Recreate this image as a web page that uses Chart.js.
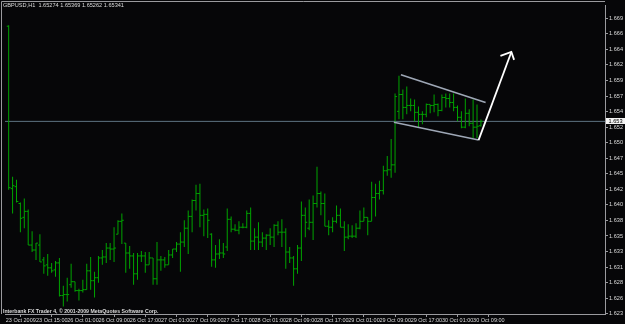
<!DOCTYPE html>
<html lang="en">
<head>
<meta charset="UTF-8" />
<title>GBPUSD,H1</title>
<script src="https://cdn.jsdelivr.net/npm/chart.js@4.4.0/dist/chart.umd.min.js"></script>
<style>
  html, body { margin: 0; padding: 0; background: #060608; }
  #wrap { width: 625px; height: 324px; }
</style>
</head>
<body>
<div id="wrap"><canvas id="myChart"></canvas></div>
<script>
// GBPUSD H1 bars, 23 Oct 2009 08:00 .. 30 Oct 2009 11:00
const symbol = 'GBPUSD';
const timeframe = 'H1';

const opens = [
  1.66804, 1.64308, 1.64338, 1.64079, 1.63866, 1.63958, 1.63440, 1.63364, 1.63440, 1.63212,
  1.63136, 1.63090, 1.63059, 1.63166, 1.62664, 1.62679, 1.62831, 1.62877, 1.62740, 1.62740,
  1.62755, 1.63044, 1.62892, 1.62938, 1.63242, 1.63257, 1.63394, 1.63379, 1.63607, 1.63805,
  1.63470, 1.63318, 1.63273, 1.62998, 1.63273, 1.63273, 1.63136, 1.63242, 1.62922, 1.63212,
  1.63212, 1.63136, 1.63288, 1.63379, 1.63455, 1.63486, 1.63699, 1.63881, 1.64125, 1.64232,
  1.63897, 1.63912, 1.63607, 1.63212, 1.63303, 1.63318, 1.63410, 1.63836, 1.63684, 1.63668,
  1.63714, 1.63714, 1.63927, 1.63501, 1.63562, 1.63486, 1.63547, 1.63592, 1.63562, 1.63744,
  1.63638, 1.63638, 1.63333, 1.63242, 1.63075, 1.63394, 1.63897, 1.63699, 1.63790, 1.64079,
  1.64232, 1.64079, 1.63729, 1.63714, 1.63805, 1.63897, 1.63714, 1.63562, 1.63577, 1.63577,
  1.63699, 1.63805, 1.63866, 1.63805, 1.64171, 1.64232, 1.64277, 1.64582, 1.64597, 1.64673,
  1.65495, 1.65754, 1.65556, 1.65586, 1.65586, 1.65480, 1.65449, 1.65449, 1.65602, 1.65586,
  1.65602, 1.65510, 1.65708, 1.65693, 1.65632, 1.65556, 1.65404, 1.65252, 1.65465, 1.65312,
  1.65252, 1.65274
];
const highs = [
  1.66820, 1.64490, 1.64445, 1.64095, 1.64155, 1.63988, 1.63653, 1.63470, 1.63607, 1.63257,
  1.63303, 1.63166, 1.63196, 1.63242, 1.62816, 1.62938, 1.63151, 1.62877, 1.62770, 1.62907,
  1.63151, 1.63257, 1.63029, 1.63273, 1.63364, 1.63470, 1.63470, 1.63714, 1.63821, 1.63927,
  1.63470, 1.63425, 1.63318, 1.63318, 1.63349, 1.63333, 1.63333, 1.63242, 1.63486, 1.63273,
  1.63257, 1.63364, 1.63379, 1.63486, 1.63638, 1.63821, 1.63973, 1.64140, 1.64369, 1.64384,
  1.63988, 1.64003, 1.63623, 1.63440, 1.63531, 1.63470, 1.64003, 1.63881, 1.63760, 1.63805,
  1.63775, 1.63973, 1.64018, 1.63699, 1.63790, 1.63638, 1.63607, 1.63699, 1.63760, 1.63805,
  1.63836, 1.63699, 1.63410, 1.63273, 1.63440, 1.64110, 1.64018, 1.64140, 1.64201, 1.64643,
  1.64262, 1.64232, 1.63821, 1.63866, 1.64049, 1.64003, 1.63805, 1.63760, 1.63744, 1.63775,
  1.63973, 1.64018, 1.63866, 1.64414, 1.64384, 1.64430, 1.64658, 1.64810, 1.65069, 1.65769,
  1.66043, 1.65830, 1.65876, 1.65693, 1.65678, 1.65571, 1.65495, 1.65617, 1.65602, 1.65754,
  1.65617, 1.65754, 1.65769, 1.65769, 1.65769, 1.65586, 1.65495, 1.65693, 1.65526, 1.65678,
  1.65602, 1.65369
];
const lows = [
  1.64292, 1.63927, 1.64095, 1.63638, 1.63699, 1.63440, 1.63333, 1.63212, 1.63181, 1.62998,
  1.62968, 1.63014, 1.62953, 1.62648, 1.62496, 1.62572, 1.62785, 1.62724, 1.62587, 1.62709,
  1.62755, 1.62755, 1.62633, 1.62862, 1.63136, 1.63166, 1.63212, 1.63181, 1.63607, 1.63455,
  1.63014, 1.63075, 1.62831, 1.62907, 1.63181, 1.63014, 1.63136, 1.62831, 1.62831, 1.63044,
  1.63090, 1.63136, 1.63242, 1.63333, 1.63029, 1.63410, 1.63303, 1.63638, 1.63973, 1.63714,
  1.63577, 1.63547, 1.63105, 1.63090, 1.63227, 1.63242, 1.63349, 1.63638, 1.63653, 1.63607,
  1.63699, 1.63699, 1.63364, 1.63364, 1.63364, 1.63410, 1.63364, 1.63440, 1.63410, 1.63592,
  1.63410, 1.63075, 1.63166, 1.62816, 1.62998, 1.63196, 1.63562, 1.63668, 1.63516, 1.64018,
  1.63897, 1.63729, 1.63592, 1.63638, 1.63775, 1.63714, 1.63349, 1.63531, 1.63547, 1.63547,
  1.63684, 1.63805, 1.63592, 1.63805, 1.63881, 1.64140, 1.64216, 1.64506, 1.64475, 1.64551,
  1.65373, 1.65373, 1.65449, 1.65495, 1.65343, 1.65252, 1.65297, 1.65404, 1.65465, 1.65480,
  1.65419, 1.65495, 1.65556, 1.65556, 1.65495, 1.65343, 1.65236, 1.65236, 1.65267, 1.65084,
  1.65084, 1.65262
];
const closes = [
  1.64323, 1.64353, 1.64110, 1.63851, 1.63958, 1.63440, 1.63364, 1.63470, 1.63181, 1.63120,
  1.63090, 1.63044, 1.63166, 1.62664, 1.62679, 1.62679, 1.62877, 1.62740, 1.62740, 1.62755,
  1.63044, 1.62892, 1.62938, 1.63242, 1.63257, 1.63394, 1.63379, 1.63394, 1.63805, 1.63821,
  1.63318, 1.63273, 1.62998, 1.63273, 1.63273, 1.63136, 1.63242, 1.62922, 1.63212, 1.63212,
  1.63136, 1.63288, 1.63379, 1.63455, 1.63486, 1.63699, 1.63881, 1.64125, 1.64232, 1.63897,
  1.63912, 1.63821, 1.63212, 1.63303, 1.63318, 1.63303, 1.63836, 1.63684, 1.63668, 1.63714,
  1.63714, 1.63927, 1.63501, 1.63562, 1.63486, 1.63547, 1.63592, 1.63562, 1.63744, 1.63638,
  1.63638, 1.63333, 1.63242, 1.63075, 1.63394, 1.63897, 1.63790, 1.63790, 1.64079, 1.64232,
  1.64079, 1.63729, 1.63714, 1.63805, 1.63897, 1.63714, 1.63562, 1.63577, 1.63577, 1.63699,
  1.63805, 1.63866, 1.63805, 1.64171, 1.64232, 1.64277, 1.64582, 1.64597, 1.64673, 1.65723,
  1.65754, 1.65556, 1.65586, 1.65586, 1.65480, 1.65449, 1.65449, 1.65602, 1.65586, 1.65602,
  1.65510, 1.65708, 1.65693, 1.65632, 1.65556, 1.65404, 1.65252, 1.65465, 1.65312, 1.65252,
  1.65267, 1.65341
];

// time axis: one label every 8 bars, first label is the first visible bar's date
const dateLabels = [
  '23 Oct 2009', '23 Oct 15:00', '26 Oct 01:00', '26 Oct 09:00', '26 Oct 17:00',
  '27 Oct 01:00', '27 Oct 09:00', '27 Oct 17:00', '28 Oct 01:00', '28 Oct 09:00',
  '28 Oct 17:00', '29 Oct 01:00', '29 Oct 09:00', '29 Oct 17:00', '30 Oct 01:00',
  '30 Oct 09:00'
];
const dateLabelBars = [0, 7, 15, 23, 31, 39, 47, 55, 63, 71, 79, 87, 95, 103, 111, 119];

// price axis
const yTickLabels = [
  '1.623', '1.626', '1.628', '1.631', '1.633', '1.635', '1.638', '1.640', '1.642', '1.645',
  '1.647', '1.650', '1.652', '1.654', '1.657', '1.659', '1.662', '1.664', '1.666', '1.669'
];
const yTickStart = 1.62385;
const yTickStep = 0.00239;

// hand drawn objects: [bar, price]
const flagUpper = [[100.5, 1.66058], [122.2, 1.65632]];
const flagLower = [[98.7, 1.65328], [120.4, 1.65054]];
const arrowShaft = [[120.4, 1.65054], [128.8, 1.66408]];
const arrowHead = [[126.0, 1.66348], [128.8, 1.66408], [129.5, 1.66287]];

// ---- layout -------------------------------------------------------
const barSpacing = 3.9223;          // px per bar
const plotLeft = 2, plotRight = 605, plotTop = 2, plotBottom = 314;
const firstBarPx = 5.7;
const xMin = -(firstBarPx - plotLeft) / barSpacing;
const xMax = xMin + (plotRight - plotLeft) / barSpacing;
const pxPerPrice = 6569;
const yMin = yTickStart - 0.3 / pxPerPrice;
const yMax = yMin + (plotBottom - plotTop) / pxPerPrice;

const barColor = '#00a400';
const textColor = '#dcdcdc';
const axisColor = '#9a9a9e';
const tickOffset = 1 / barSpacing;
const lastBar = closes.length - 1;

const toPts = arr => arr.map(p => ({ x: p[0], y: p[1] }));

const ctx = document.getElementById('myChart').getContext('2d');

const mt4Frame = {
  id: 'mt4Frame',
  beforeDraw(chart) {
    const c = chart.ctx, a = chart.chartArea;
    c.save();
    c.fillStyle = '#060608';
    c.fillRect(0, 0, chart.width, chart.height);
    c.strokeStyle = axisColor;
    c.lineWidth = 1;
    c.beginPath();
    c.moveTo(1.5, a.bottom);
    c.lineTo(1.5, 1.5);
    c.lineTo(a.right, 1.5);
    c.stroke();
    c.restore();
  },
  afterDraw(chart) {
    const c = chart.ctx;
    c.save();
    // header with last bar OHLC
    c.fillStyle = textColor;
    c.font = '5.6px "Liberation Sans"';
    c.textBaseline = 'alphabetic';
    c.textAlign = 'left';
    const head = symbol + ',' + timeframe + '  ' + [opens[lastBar], highs[lastBar], lows[lastBar], closes[lastBar]]
      .map(v => v.toFixed(5)).join(' ');
    c.fillText(head, 3, 7);
    // footer
    c.font = 'bold 5.2px "Liberation Sans"';
    c.fillText('Interbank FX Trader 4, \u00a9 2001-2009 MetaQuotes Software Corp.', 3, 313);
    // current price box on the price axis
    const py = chart.scales.y.getPixelForValue(closes[lastBar]);
    c.fillStyle = '#f4f4f4';
    c.fillRect(606, Math.round(py) - 3, 19, 6);
    c.fillStyle = '#000000';
    c.font = '5.6px "Liberation Sans"';
    c.textBaseline = 'middle';
    c.fillText(closes[lastBar].toFixed(3), 608.5, Math.round(py));
    c.restore();
  }
};

const myChart = new Chart(ctx, {
  type: 'bar',
  data: {
    datasets: [
      {
        type: 'line',
        label: 'price',
        data: [{ x: xMin, y: closes[lastBar] }, { x: xMax, y: closes[lastBar] }],
        borderColor: '#5d7280',
        borderWidth: 1,
        pointRadius: 0,
        order: 10
      },
      {
        type: 'bar',
        label: 'range',
        data: closes.map((_, i) => ({ x: i, y: [lows[i], highs[i]] })),
        backgroundColor: barColor,
        borderWidth: 0,
        barThickness: 1,
        inflateAmount: 0,
        grouped: false,
        order: 5
      },
      {
        type: 'scatter',
        label: 'open',
        data: opens.map((v, i) => ({ x: i - tickOffset, y: v })),
        pointStyle: 'line',
        pointRadius: 0.9,
        borderColor: barColor,
        borderWidth: 1,
        order: 4
      },
      {
        type: 'scatter',
        label: 'close',
        data: closes.map((v, i) => ({ x: i + tickOffset, y: v })),
        pointStyle: 'line',
        pointRadius: 0.9,
        borderColor: barColor,
        borderWidth: 1,
        order: 4
      },
      {
        type: 'line', label: 'flag upper', data: toPts(flagUpper),
        borderColor: '#9ea7b6', borderWidth: 1.6, pointRadius: 0, order: 1
      },
      {
        type: 'line', label: 'flag lower', data: toPts(flagLower),
        borderColor: '#9ea7b6', borderWidth: 1.6, pointRadius: 0, order: 1
      },
      {
        type: 'line', label: 'arrow', data: toPts(arrowShaft),
        borderColor: '#ffffff', borderWidth: 1.8, pointRadius: 0, order: 0
      },
      {
        type: 'line', label: 'arrow head', data: toPts(arrowHead),
        borderColor: '#ffffff', borderWidth: 1.8, pointRadius: 0, order: 0,
        borderJoinStyle: 'miter'
      }
    ]
  },
  options: {
    responsive: true,
    maintainAspectRatio: false,
    devicePixelRatio: 1,
    animation: false,
    events: [],
    layout: { padding: { left: plotLeft, top: plotTop, right: 0, bottom: 0 } },
    plugins: { legend: { display: false }, tooltip: { enabled: false } },
    scales: {
      x: {
        type: 'linear',
        position: 'bottom',
        min: xMin,
        max: xMax,
        offset: false,
        bounds: 'data',
        grid: { drawOnChartArea: false, tickLength: 3, color: axisColor },
        border: { color: axisColor, width: 1 },
        ticks: {
          color: textColor,
          font: { family: '"Liberation Sans Narrow", "Liberation Sans"', size: 5.5 },
          align: 'start',
          autoSkip: false,
          maxRotation: 0,
          minRotation: 0,
          padding: 0,
          callback: (v, i) => dateLabels[i]
        },
        afterBuildTicks: s => {
          s.ticks = dateLabelBars.map((b, k) => ({ value: k === 0 ? xMin + 0.2 : b }));
        },
        afterFit: s => { s.height = 324 - plotBottom; }
      },
      y: {
        type: 'linear',
        position: 'right',
        min: yMin,
        max: yMax,
        bounds: 'data',
        grid: { drawOnChartArea: false, tickLength: 3, color: axisColor },
        border: { color: axisColor, width: 1 },
        ticks: {
          color: textColor,
          font: { family: 'Liberation Sans', size: 5.6 },
          padding: 1,
          autoSkip: false,
          callback: (v, i) => yTickLabels[i]
        },
        afterBuildTicks: s => {
          s.ticks = yTickLabels.map((_, k) => ({ value: yTickStart + k * yTickStep }));
        },
        afterFit: s => { s.width = 625 - plotRight; }
      }
    }
  },
  plugins: [mt4Frame]
});
</script>
</body>
</html>
